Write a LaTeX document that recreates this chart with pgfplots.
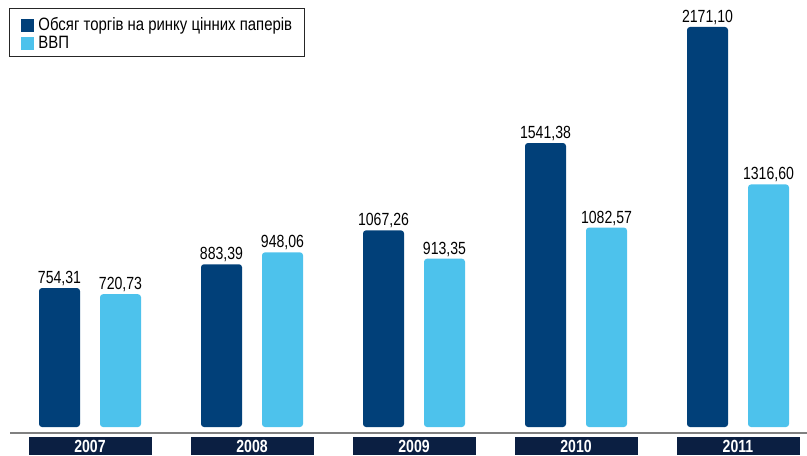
\documentclass[border=0pt]{standalone}
\usepackage{fontspec}
\setmainfont{Liberation Sans}[FakeStretch=0.8]
\newfontfamily\legfont{Liberation Sans}[FakeStretch=0.835]
\usepackage{pgfplots}
\pgfplotsset{compat=1.18}

\definecolor{darkbar}{RGB}{1,64,121}
\definecolor{lightbar}{RGB}{77,194,236}
\definecolor{yearbox}{RGB}{11,31,66}
\definecolor{basegray}{RGB}{128,128,128}

% rectangles as plain paths, so that rounded corners reach the bars
\makeatletter
\def\pgfpathrectangle#1#2{%
  \pgf@process{#1}\edef\rr@xa{\the\pgf@x}\edef\rr@ya{\the\pgf@y}%
  \pgf@process{#2}%
  \pgf@xa=\rr@xa\relax\advance\pgf@xa by\pgf@x
  \pgf@ya=\rr@ya\relax\advance\pgf@ya by\pgf@y
  \edef\rr@xb{\the\pgf@xa}\edef\rr@yb{\the\pgf@ya}%
  \pgfpathmoveto{\pgfqpoint{\rr@xa}{\rr@ya}}%
  \pgfpathlineto{\pgfqpoint{\rr@xb}{\rr@ya}}%
  \pgfpathlineto{\pgfqpoint{\rr@xb}{\rr@yb}}%
  \pgfpathlineto{\pgfqpoint{\rr@xa}{\rr@yb}}%
  \pgfpathclose}
\def\pgfpathrectanglecorners#1#2{%
  \pgf@process{#1}\edef\rr@xa{\the\pgf@x}\edef\rr@ya{\the\pgf@y}%
  \pgf@process{#2}\edef\rr@xb{\the\pgf@x}\edef\rr@yb{\the\pgf@y}%
  \pgfpathmoveto{\pgfqpoint{\rr@xa}{\rr@ya}}%
  \pgfpathlineto{\pgfqpoint{\rr@xb}{\rr@ya}}%
  \pgfpathlineto{\pgfqpoint{\rr@xb}{\rr@yb}}%
  \pgfpathlineto{\pgfqpoint{\rr@xa}{\rr@yb}}%
  \pgfpathclose}
\makeatother

\begin{document}
\begin{tikzpicture}[font=\fontsize{13.2pt}{16pt}\selectfont]
  \useasboundingbox (0,0) rectangle (605.25pt,-341.25pt);
  \begin{axis}[
    at={(7.5pt,-324.75pt)}, anchor=south west,
    scale only axis, width=597.75pt, height=324.75pt,
    xmin=-0.49383, xmax=4.42593, ymin=-32.57, ymax=2317.6,
    ybar=15pt, bar width=30.75pt,
    axis y line=none, axis x line*=bottom,
    x axis line style={draw=basegray, line width=1.125pt, -},
    xtick={0,1,2,3,4}, xticklabels={2007,2008,2009,2010,2011},
    major tick length=0pt,
    xticklabel style={fill=yearbox, text=white,
      font=\fontsize{13.2pt}{16pt}\selectfont\bfseries,
      minimum width=92.25pt, minimum height=13.5pt, inner sep=0pt,
      anchor=north, yshift=-3pt},
    nodes near coords,
    every node near coord/.append style={
      font=\fontsize{13.2pt}{16pt}\selectfont, text=black,
      anchor=base, yshift=3.4pt, inner sep=0pt},
    /pgf/number format/.cd, fixed, fixed zerofill, precision=2,
      use comma, 1000 sep={}, assume math mode=true,
    /pgfplots/.cd,
    legend cell align=left,
    legend style={at={(axis description cs:-0.00126,0.98152)},
      anchor=north west, draw=black!85, line width=0.75pt,
      inner xsep=9pt, inner ysep=4.5pt, column sep=3pt, row sep=0pt,
      font=\fontsize{13.4pt}{16pt}\legfont,
      nodes={inner sep=0pt, text height=12pt, text depth=1.5pt}},
    every axis plot post/.append style={
      legend image code/.code={\fill[##1, sharp corners, draw=none]
        (0pt,-6.25pt) rectangle (9.75pt,3.75pt);}},
  ]
    \addplot[fill=darkbar, draw=none, rounded corners=2.25pt] coordinates {
      (0,754.31) (1,883.39) (2,1067.26) (3,1541.38) (4,2171.10)};
    \addplot[fill=lightbar, draw=none, rounded corners=2.25pt] coordinates {
      (0,720.73) (1,948.06) (2,913.35) (3,1082.57) (4,1316.60)};
    \legend{Обсяг торгів на ринку цінних паперів, ВВП}
  \end{axis}
\end{tikzpicture}
\end{document}
